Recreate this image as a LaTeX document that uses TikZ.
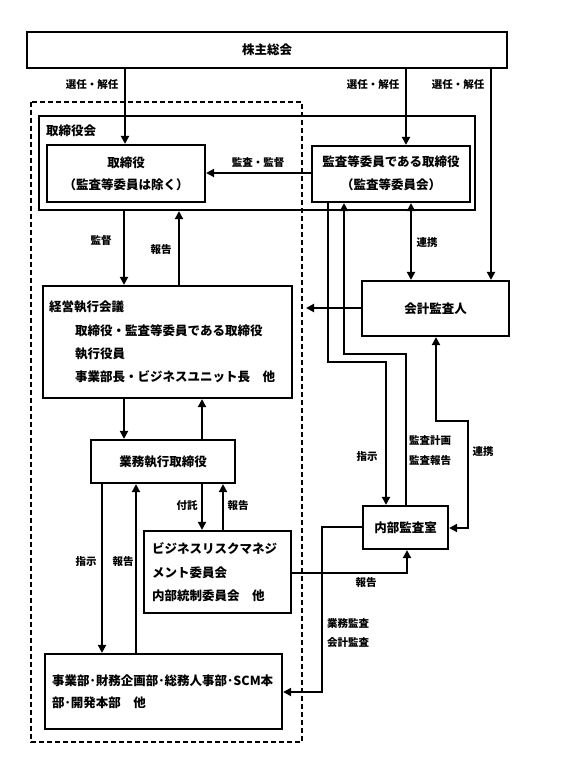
\documentclass[tikz,border=0pt]{standalone}
\usepackage{fontspec}
\newfontfamily\jp{Noto Sans CJK JP}
\usetikzlibrary{arrows.meta}
\tikzset{
  box/.style={draw, line width=2.2pt, inner sep=0pt, font=\jp\bfseries\fontsize{12.5}{16}\selectfont},
  txt/.style={inner sep=0pt, font=\jp\bfseries\fontsize{12.5}{16}\selectfont},
  lbl/.style={inner sep=0pt, font=\jp\bfseries\fontsize{10.5}{13}\selectfont},
  con/.style={line width=2.2pt},
  arr/.style={con, -{Triangle[length=8pt,width=8pt]}},
  darr/.style={con, {Triangle[length=8pt,width=8pt]}-{Triangle[length=8pt,width=8pt]}},
}
\begin{document}
\begin{tikzpicture}[x=1pt,y=-1pt]
\useasboundingbox (0,0) rectangle (562,781);
% dashed frame
\draw[line width=2.2pt, dash pattern=on 5pt off 3pt] (31,102) rectangle (302,742);
% nodes
\node[box, minimum width=480pt, minimum height=36pt] (sh) at (267,50) {株主総会};
\node[draw, line width=2.2pt, minimum width=436pt, minimum height=94pt, inner sep=0pt] (board) at (257,163) {};
\node[txt, anchor=west] (boardl) at (46,131) {取締役会};
\node[box, minimum width=158pt, minimum height=57pt] (dir) at (126,173.5) {};
\node[txt] (dir1) at (126,163) {取締役};
\node[txt] (dir2) at (126,185) {（監査等委員は除く）};
\node[box, minimum width=158pt, minimum height=56pt] (ac) at (391,174) {};
\node[txt] (ac1) at (391,162) {監査等委員である取締役};
\node[txt] (ac2) at (391,185) {（監査等委員会）};
\node[box, minimum width=249pt, minimum height=112pt] (mg) at (167.5,342) {};
\node[txt, anchor=west] (mg1) at (49,307) {経営執行会議};
\node[txt, anchor=west] (mg2) at (75,331) {取締役・監査等委員である取締役};
\node[txt, anchor=west] (mg3) at (75,354) {執行役員};
\node[txt, anchor=west] (mg4) at (75,377) {事業部長・ビジネスユニット長　他};
\node[box, minimum width=147pt, minimum height=55pt] (au) at (435.5,308.5) {会計監査人};
\node[box, minimum width=144pt, minimum height=43pt] (ex) at (163,461.5) {業務執行取締役};
\node[box, minimum width=147pt, minimum height=82pt] (brm) at (217.5,572) {};
\node[txt, anchor=west] (brm1) at (152,549) {ビジネスリスクマネジ};
\node[txt, anchor=west] (brm2) at (152,573) {メント委員会};
\node[txt, anchor=west] (brm3) at (152,596) {内部統制委員会　他};
\node[box, minimum width=85pt, minimum height=43pt] (ia) at (405.5,527.5) {内部監査室};
\node[box, minimum width=237pt, minimum height=75pt] (dp) at (163.5,691.5) {};
\node[txt, anchor=west] (dp1) at (52,681) {事業部･財務企画部･総務人事部･SCM本};
\node[txt, anchor=west] (dp2) at (52,703) {部･開発本部　他};
% connectors
\draw[arr] (sh.south -| 125,0) -- (dir.north -| 125,0);
\draw[arr] (sh.south -| 406,0) -- (ac.north -| 406,0);
\draw[arr] (sh.south -| 491,0) -- (au.north -| 491,0);
\draw[arr] (ac.west |- 0,173) -- (dir.east |- 0,173);
\draw[arr] (board.south -| 124,0) -- (mg.north -| 124,0);
\draw[arr] (mg.north -| 179,0) -- (board.south -| 179,0);
\draw[darr] (ac.south -| 411,0) -- (au.north -| 411,0);
\coordinate (autip) at (306,308);
\draw[arr] (au.west |- autip) -- (autip);
\draw[arr] (ac.south -| 328,0) -- (328,362) -- (386,362) -- (ia.north -| 386,0);
\draw[arr] (ia.north -| 406,0) -- (406,354) -- (344,354) -- (ac.south -| 344,0);
\draw[darr] (au.south -| 436,0) -- (436,421) -- (468,421) -- (468,528) -- (ia.east |- 0,528);
\draw[arr] (mg.south -| 124,0) -- (ex.north -| 124,0);
\draw[arr] (ex.north -| 202,0) -- (mg.south -| 202,0);
\draw[arr] (ex.south -| 102,0) -- (dp.north -| 102,0);
\draw[arr] (dp.north -| 136,0) -- (ex.south -| 136,0);
\draw[arr] (ex.south -| 202,0) -- (brm.north -| 202,0);
\draw[arr] (brm.north -| 223,0) -- (ex.south -| 223,0);
\draw[arr] (brm.east |- 0,573) -- (407,573) -- (ia.south -| 407,0);
\draw[arr] (ia.west |- 0,527) -- (322,527) -- (322,692) -- (dp.east |- 0,692);
% labels
\node[lbl] (l1) at (92,85) {選任・解任};
\node[lbl] (l2) at (373,85) {選任・解任};
\node[lbl] (l3) at (458,85) {選任・解任};
\node[lbl] (l4) at (258,163) {監査・監督};
\node[lbl] (l5) at (101,241) {監督};
\node[lbl] (l6) at (161,250) {報告};
\node[lbl] (l7) at (427,243) {連携};
\node[lbl] (l8) at (367,457) {指示};
\node[lbl] (l9) at (430,441) {監査計画};
\node[lbl] (l10) at (430,461) {監査報告};
\node[lbl] (l11) at (483,452) {連携};
\node[lbl] (l12) at (366,583) {報告};
\node[lbl] (l13) at (348,624) {業務監査};
\node[lbl] (l14) at (348,643) {会計監査};
\node[lbl] (l15) at (187,506) {付託};
\node[lbl] (l16) at (238,506) {報告};
\node[lbl] (l17) at (86,562) {指示};
\node[lbl] (l18) at (123,562) {報告};
\end{tikzpicture}
\end{document}
